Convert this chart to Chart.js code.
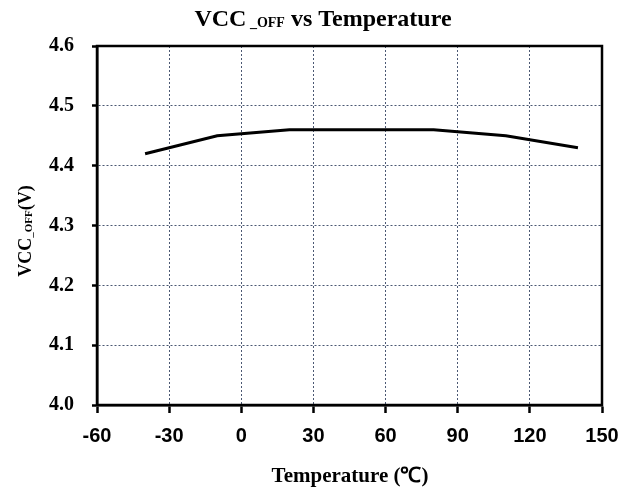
<!DOCTYPE html>
<html>
<head>
<meta charset="utf-8">
<script src="https://cdn.jsdelivr.net/npm/chart.js@4.4.0/dist/chart.umd.min.js"></script>
<style>
  html, body { margin: 0; padding: 0; background: #fff; }
  #wrap { width: 630px; height: 492px; }
</style>
</head>
<body>
<div id="wrap"><canvas id="vccChart" width="630" height="492"></canvas></div>
<script>
// data
const temperature = [-40, -10, 20, 50, 80, 110, 140];
const vccOff = [4.42, 4.45, 4.46, 4.46, 4.46, 4.45, 4.43];
const xTicks = [-60, -30, 0, 30, 60, 90, 120, 150];
const yTicks = [4.0, 4.1, 4.2, 4.3, 4.4, 4.5, 4.6];

const serif = '"Liberation Serif", "Times New Roman", serif';
const sans = '"Liberation Sans", Arial, sans-serif';

// draws "main" + smaller lowered "sub" + "rest", centred at (0,0) of current transform
function drawSubText(ctx, main, sub, rest, size, subSize, drop) {
    ctx.font = 'bold ' + size + 'px ' + serif;
    const w1 = ctx.measureText(main).width;
    const w3 = ctx.measureText(rest).width;
    ctx.font = 'bold ' + subSize + 'px ' + serif;
    const w2 = ctx.measureText(sub).width;
    let x = -(w1 + w2 + w3) / 2;
    ctx.textAlign = 'left';
    ctx.textBaseline = 'alphabetic';
    ctx.fillStyle = '#000';
    ctx.font = 'bold ' + size + 'px ' + serif;
    ctx.fillText(main, x, 0);
    x += w1;
    ctx.font = 'bold ' + subSize + 'px ' + serif;
    ctx.fillText(sub, x, drop);
    x += w2;
    ctx.font = 'bold ' + size + 'px ' + serif;
    ctx.fillText(rest, x, 0);
}

const labelsPlugin = {
    id: 'labels',
    afterDraw(chart) {
        const ctx = chart.ctx;
        const a = chart.chartArea;
        // frame
        ctx.save();
        ctx.strokeStyle = '#000';
        ctx.lineWidth = 2.5;
        ctx.strokeRect(a.left, a.top, a.right - a.left, a.bottom - a.top);
        ctx.restore();

        // title
        ctx.save();
        ctx.translate(323, 26);
        drawSubText(ctx, 'VCC', ' _OFF', ' vs Temperature', 24, 14, 1);
        ctx.restore();

        // y axis title
        ctx.save();
        ctx.translate(31, 231);
        ctx.rotate(-Math.PI / 2);
        drawSubText(ctx, 'VCC', '_OFF', '(V)', 18, 11, 1);
        ctx.restore();

        // x axis title
        ctx.save();
        ctx.font = 'bold 21px ' + serif;
        ctx.fillStyle = '#000';
        ctx.textAlign = 'center';
        ctx.textBaseline = 'alphabetic';
        ctx.fillText('Temperature (\u2103)', 350, 482);
        ctx.restore();
    }
};

const config = {
    type: 'line',
    data: {
        datasets: [{
            label: 'VCC_OFF',
            data: temperature.map((t, i) => ({ x: t, y: vccOff[i] })),
            borderColor: '#000',
            borderWidth: 3,
            pointRadius: 0,
            tension: 0,
            fill: false
        }]
    },
    options: {
        responsive: false,
        animation: false,
        layout: { padding: { top: 46, right: 28, left: 0, bottom: 0 } },
        plugins: {
            legend: { display: false },
            title: { display: false },
            tooltip: { enabled: false }
        },
        scales: {
            x: {
                type: 'linear',
                min: -60,
                max: 150,
                afterBuildTicks: (s) => { s.ticks = xTicks.map(v => ({ value: v })); },
                afterFit: (s) => { s.height = 87; },
                ticks: {
                    color: '#000',
                    font: { family: sans, size: 20, weight: 'bold' },
                    padding: 11,
                    maxRotation: 0
                },
                grid: {
                    color: '#4b5873',
                    lineWidth: 1,
                    tickColor: '#000',
                    tickLength: 8,
                    tickWidth: 2.5
                },
                border: { display: true, color: '#000', width: 2.5, dash: [2, 2] }
            },
            y: {
                min: 4.0,
                max: 4.6,
                afterBuildTicks: (s) => { s.ticks = yTicks.map(v => ({ value: v })); },
                afterFit: (s) => { s.width = 97; },
                ticks: {
                    color: '#000',
                    font: { family: serif, size: 20, weight: 'bold' },
                    padding: 18,
                    callback: (v) => Number(v).toFixed(1)
                },
                grid: {
                    color: '#4b5873',
                    lineWidth: 1,
                    tickColor: '#000',
                    tickLength: 5,
                    tickWidth: 2.5
                },
                border: { display: true, color: '#000', width: 2.5, dash: [2, 2] }
            }
        }
    },
    plugins: [labelsPlugin]
};

const vccChart = new Chart(document.getElementById('vccChart'), config);
</script>
</body>
</html>
